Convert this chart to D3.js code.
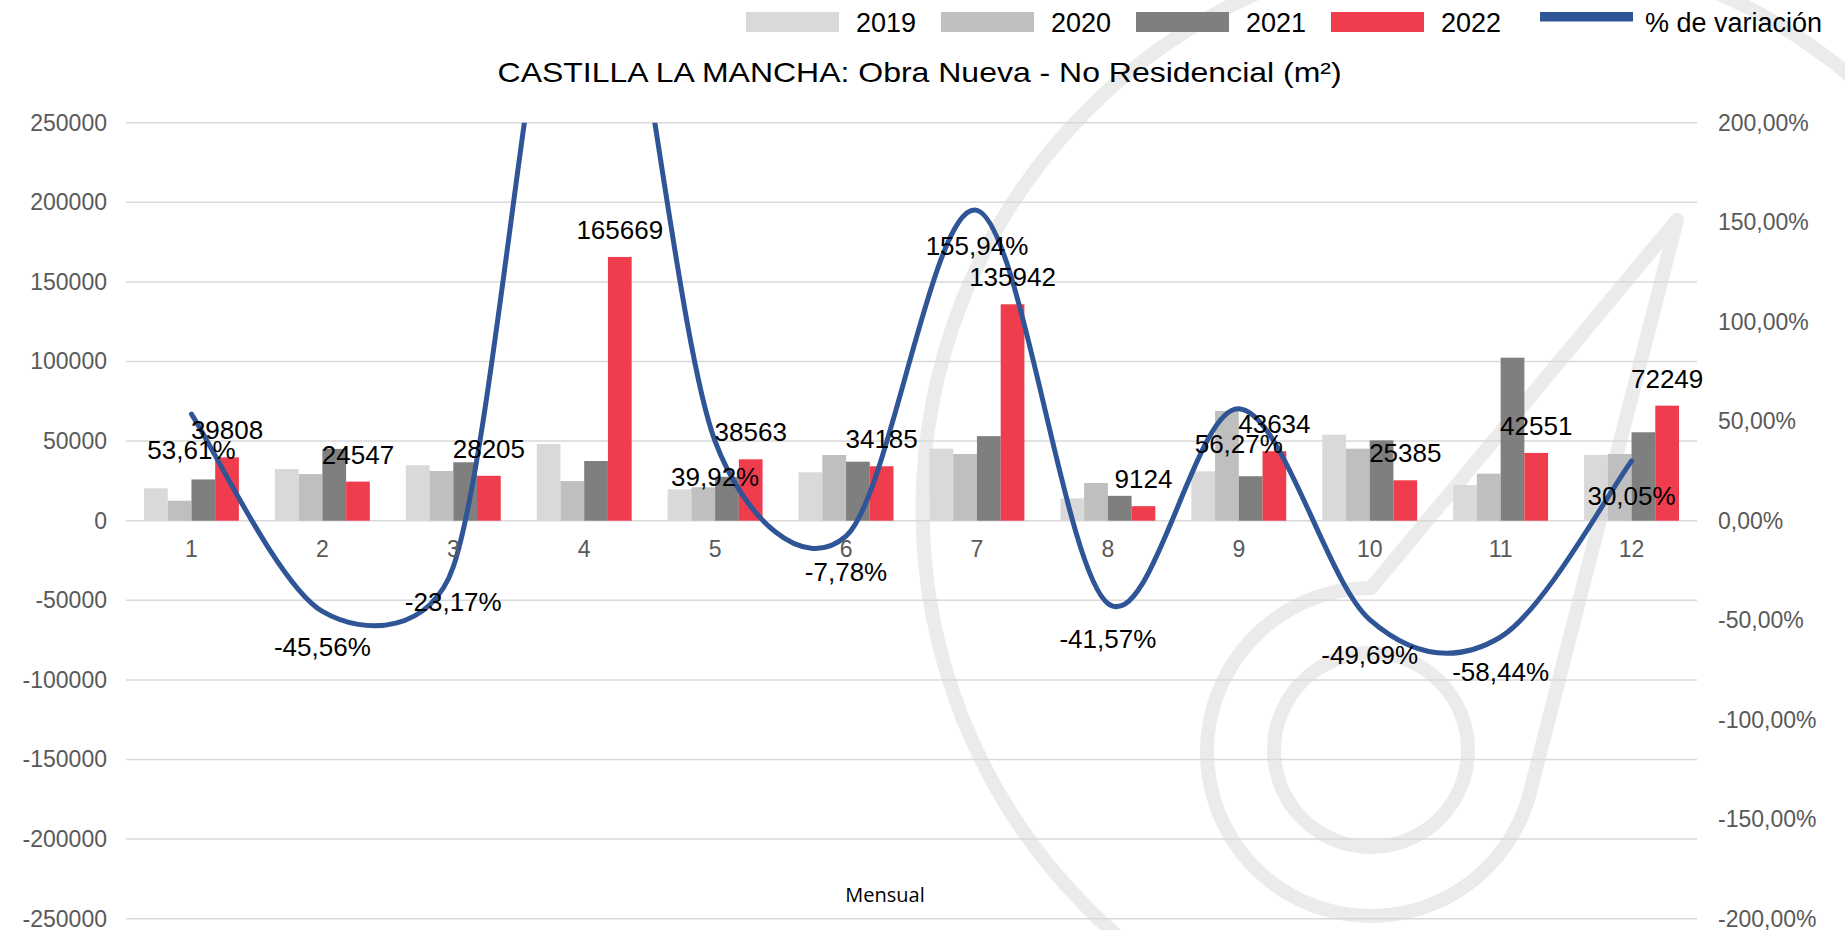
<!DOCTYPE html>
<html>
<head>
<meta charset="utf-8">
<script src="https://cdn.jsdelivr.net/npm/d3@7"></script>
<style>
  body { margin: 0; background: #fff; }
  svg { display: block; font-family: "Liberation Sans", Arial, sans-serif; }
</style>
</head>
<body>
<svg id="chart" width="1845" height="930"></svg>
<script>
// data
const months = ["1", "2", "3", "4", "5", "6", "7", "8", "9", "10", "11", "12"];
const seriesNames = ["2019", "2020", "2021", "2022"];
const v2019 = [20350, 32470, 34800, 48200, 19700, 30400, 45230, 14060, 31000, 54000, 22400, 41270];
const v2020 = [12560, 29300, 31200, 24900, 21000, 41270, 41900, 23680, 68900, 45230, 29540, 41900];
const v2021 = [25915, 45091, 36711, 37500, 27561, 37069, 53115, 15616, 27922, 50457, 102385, 55555];
const v2022 = [39808, 24547, 28205, 165669, 38563, 34185, 135942, 9124, 43634, 25385, 42551, 72249];
const variacion = [53.61, -45.56, -23.17, 341.78, 39.92, -7.78, 155.94, -41.57, 56.27, -49.69, -58.44, 30.05];
const leftTicks = [-250000, -200000, -150000, -100000, -50000, 0, 50000, 100000, 150000, 200000, 250000];
const rightTicks = [-200, -150, -100, -50, 0, 50, 100, 150, 200];

const colors = ["#D9D9D9", "#BFBFBF", "#7F7F7F", "#EF3D4E"];
const lineColor = "#2F5597";
const wmColor = "#EBEBEB";

const svg = d3.select("#chart");
const plot = { left: 126, right: 1697, top: 122.7, bottom: 918.7 };

const loc = d3.formatLocale({ decimal: ",", thousands: ".", grouping: [3], currency: ["", "€"], minus: "-" });
const pct = d => loc.format(".2f")(d) + "%";

const x0 = d3.scaleBand().domain(months).range([plot.left, plot.right])
    .paddingInner(0.275).paddingOuter(0.1375);
const x1 = d3.scaleBand().domain(seriesNames).range([0, x0.bandwidth()]);
const y = d3.scaleLinear().domain([-250000, 250000]).range([plot.bottom, plot.top]);
const y2 = d3.scaleLinear().domain([-200, 200]).range([plot.bottom, plot.top]);

svg.append("rect").attr("width", 1845).attr("height", 930).attr("fill", "#fff");

// watermark logo
const wm = svg.append("g").attr("fill", "none").attr("stroke", wmColor)
    .attr("stroke-width", 14).attr("stroke-linejoin", "round").attr("stroke-linecap", "round");
wm.append("circle").attr("cx", 1487.5).attr("cy", 509).attr("r", 565);
wm.append("circle").attr("cx", 1371).attr("cy", 750).attr("r", 97);
(function () {
    const c = [1371, 752], r = 164, tip = [1677, 220];
    const d = Math.hypot(tip[0] - c[0], tip[1] - c[1]);
    const a = Math.atan2(tip[1] - c[1], tip[0] - c[0]) + Math.acos(r / d);
    const q = [c[0] + r * Math.cos(a), c[1] + r * Math.sin(a)];
    const top = [c[0], c[1] - r];
    wm.append("path").attr("d",
        `M${top[0]},${top[1]} L${tip[0]},${tip[1]} L${q[0]},${q[1]} A${r},${r} 0 1 1 ${top[0]},${top[1]}`);
})();

// gridlines
svg.append("g").selectAll("line").data(leftTicks).join("line")
    .attr("x1", plot.left).attr("x2", plot.right)
    .attr("y1", d => y(d)).attr("y2", d => y(d))
    .attr("stroke", "#D9D9D9").attr("stroke-width", 1.5);

// bars
const table = months.map((m, i) => ({ m, vals: [v2019[i], v2020[i], v2021[i], v2022[i]] }));
const groups = svg.append("g").selectAll("g").data(table).join("g")
    .attr("transform", d => `translate(${x0(d.m)},0)`);
groups.selectAll("rect").data(d => d.vals.map((v, k) => ({ k, v }))).join("rect")
    .attr("x", d => x1(seriesNames[d.k]))
    .attr("width", x1.bandwidth())
    .attr("y", d => y(Math.max(0, d.v)))
    .attr("height", d => Math.abs(y(d.v) - y(0)))
    .attr("fill", d => colors[d.k]);

// smoothed line like the spreadsheet one
function smooth(pts) {
    const p = d3.path();
    p.moveTo(pts[0][0], pts[0][1]);
    for (let i = 0; i < pts.length - 1; i++) {
        const p0 = pts[Math.max(i - 1, 0)], p1 = pts[i], p2 = pts[i + 1], p3 = pts[Math.min(i + 2, pts.length - 1)];
        const d12 = Math.hypot(p2[0] - p1[0], p2[1] - p1[1]);
        const cap = t => {
            const l = Math.hypot(t[0], t[1]);
            return l > d12 / 2 ? [t[0] * d12 / 2 / l, t[1] * d12 / 2 / l] : t;
        };
        const t1 = cap([(p2[0] - p0[0]) / 6, (p2[1] - p0[1]) / 6]);
        const t2 = cap([(p3[0] - p1[0]) / 6, (p3[1] - p1[1]) / 6]);
        p.bezierCurveTo(p1[0] + t1[0], p1[1] + t1[1], p2[0] - t2[0], p2[1] - t2[1], p2[0], p2[1]);
    }
    return p.toString();
}
const cx = m => x0(m) + x0.bandwidth() / 2;
const linePts = months.map((m, i) => [cx(m), y2(variacion[i])]);

svg.append("clipPath").attr("id", "clip").append("rect")
    .attr("x", plot.left).attr("y", plot.top)
    .attr("width", plot.right - plot.left).attr("height", plot.bottom - plot.top);
svg.append("path").attr("clip-path", "url(#clip)")
    .attr("d", smooth(linePts))
    .attr("fill", "none").attr("stroke", lineColor).attr("stroke-width", 5)
    .attr("stroke-linecap", "round");

// data labels
svg.append("g").selectAll("text").data(months).join("text")
    .attr("x", (m, i) => x0(m) + x1("2022") + x1.bandwidth() / 2)
    .attr("y", (m, i) => y(v2022[i]) - 18)
    .attr("text-anchor", "middle").attr("font-size", 26).attr("fill", "#000")
    .text((m, i) => v2022[i]);
// labels whose point falls outside the plot area are not shown
const shown = months.map((m, i) => i).filter(i => variacion[i] <= 200 && variacion[i] >= -200);
svg.append("g").selectAll("text").data(shown).join("text")
    .attr("x", i => cx(months[i]))
    .attr("y", i => y2(variacion[i]) + 44.5)
    .attr("text-anchor", "middle").attr("font-size", 26).attr("fill", "#000")
    .text(i => pct(variacion[i]));

// axes
const axL = svg.append("g").attr("transform", `translate(${plot.left},0)`)
    .call(d3.axisLeft(y).tickValues(leftTicks).tickSize(0).tickPadding(19).tickFormat(d => String(d)));
const axR = svg.append("g").attr("transform", `translate(${plot.right},0)`)
    .call(d3.axisRight(y2).tickValues(rightTicks).tickSize(0).tickPadding(21).tickFormat(pct));
const axB = svg.append("g").attr("transform", `translate(0,${y(0)})`)
    .call(d3.axisBottom(x0).tickSize(0).tickPadding(20));
[axL, axR, axB].forEach(a => {
    a.select(".domain").remove();
    a.selectAll("text").attr("font-size", 23).attr("fill", "#595959")
        .attr("font-family", "'Liberation Sans', Arial, sans-serif");
});

svg.append("text").attr("x", 885).attr("y", 901.5).attr("text-anchor", "middle")
    .attr("font-family", "'Open Sans', sans-serif").attr("font-size", 20).attr("fill", "#000")
    .text("Mensual");

// title
svg.append("text").attr("x", 919.6).attr("y", 82).attr("text-anchor", "middle")
    .attr("font-size", 28).attr("fill", "#000")
    .attr("textLength", 844).attr("lengthAdjust", "spacingAndGlyphs")
    .text("CASTILLA LA MANCHA: Obra Nueva - No Residencial (m²)");

// legend
const leg = svg.append("g");
seriesNames.forEach((s, i) => {
    const lx = 746 + i * 195;
    leg.append("rect").attr("x", lx).attr("y", 12).attr("width", 93).attr("height", 20).attr("fill", colors[i]);
    leg.append("text").attr("x", lx + 110).attr("y", 32).attr("font-size", 27).attr("fill", "#000").text(s);
});
leg.append("rect").attr("x", 1540).attr("y", 12).attr("width", 93).attr("height", 9.5).attr("fill", lineColor);
leg.append("text").attr("x", 1645).attr("y", 32).attr("font-size", 27).attr("fill", "#000").text("% de variación");
</script>
</body>
</html>
